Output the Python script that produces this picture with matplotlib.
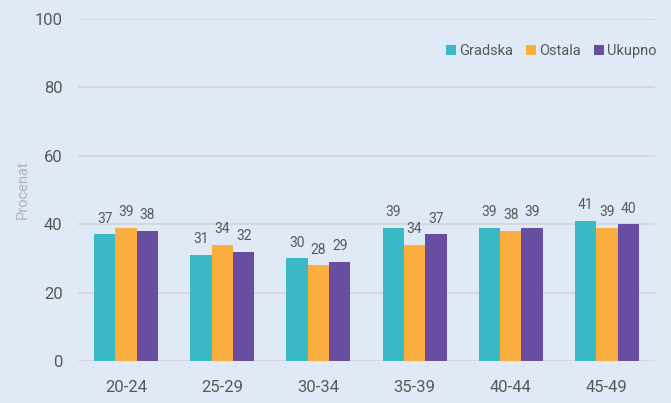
import numpy as np
import matplotlib.pyplot as plt

# age groups and shares (%) by settlement type
groups = ['20-24', '25-29', '30-34', '35-39', '40-44', '45-49']
gradska = [37, 31, 30, 39, 39, 41]
ostala = [39, 34, 28, 34, 38, 39]
ukupno = [38, 32, 29, 37, 39, 40]

series = [('Gradska', gradska, '#3bb9c6'),
          ('Ostala', ostala, '#fbad3f'),
          ('Ukupno', ukupno, '#684ea0')]

bg = '#dfeaf6'
txt = '#595959'
plt.rcParams['font.family'] = ['Roboto', 'DejaVu Sans']

fig = plt.figure(figsize=(6.71, 4.03), dpi=100, facecolor=bg)
ax = fig.add_axes([78 / 671, 42 / 403, 577 / 671, 342 / 403], facecolor=bg)

x = np.arange(len(groups))
w = 0.222
for i, (name, vals, col) in enumerate(series):
    pos = x + (i - 1) * w
    ax.bar(pos, vals, width=w, color=col, label=name, zorder=3)
    for p, v in zip(pos, vals):
        ax.text(p, v + 2.5, str(v), ha='center', va='bottom',
                fontsize=10, color=txt)

ax.set_xlim(-0.5, len(groups) - 0.5)
ax.set_ylim(0, 100)
ax.set_yticks(range(0, 101, 20))
ax.set_xticks(x)
ax.set_xticklabels(groups)
ax.grid(axis='y', color='#d2d6da', linewidth=1.2, zorder=0)
ax.tick_params(axis='both', length=0, labelsize=12, colors=txt)
ax.tick_params(axis='x', pad=14)
ax.tick_params(axis='y', pad=11)
for s in ax.spines.values():
    s.set_visible(False)

ax.set_ylabel('Procenat', fontsize=10.5, color='#b0b5ba', labelpad=3.5)

leg = ax.legend(loc='upper right', bbox_to_anchor=(1.026, 0.964), ncol=3,
                frameon=False, fontsize=10.5, handlelength=0.7,
                handleheight=0.7, handletextpad=0.2, columnspacing=0.9)
for t in leg.get_texts():
    t.set_color(txt)

fig.savefig('out.png', dpi=100, facecolor=bg)
